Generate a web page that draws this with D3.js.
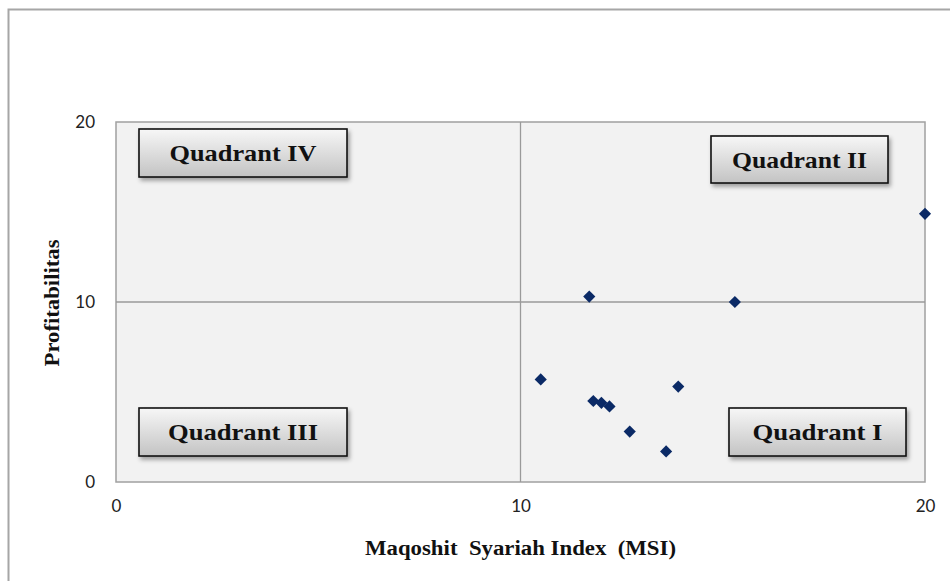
<!DOCTYPE html>
<html><head><meta charset="utf-8">
<script src="https://cdn.jsdelivr.net/npm/d3@7/dist/d3.min.js"></script>
<style>body{margin:0;background:#fff;}svg{display:block;}</style>
</head><body>
<svg id="c" width="950" height="581"></svg>
<script>
const msi = [20.0, 11.7, 15.3, 10.5, 13.9, 11.8, 12.0, 12.2, 12.7, 13.6];
const profit = [14.9, 10.3, 10.0, 5.7, 5.3, 4.5, 4.4, 4.2, 2.8, 1.7];
const xTicks = [0, 10, 20];
const yTicks = [0, 10, 20];
const quadrantLabels = ["Quadrant IV", "Quadrant II", "Quadrant III", "Quadrant I"];

const svg = d3.select("#c");
const L = 116, R = 925, T = 122, B = 482;
const x = d3.scaleLinear().domain([0, 20]).range([L, R]);
const y = d3.scaleLinear().domain([0, 20]).range([B, T]);

const defs = svg.append("defs");
const g = defs.append("linearGradient").attr("id","bg").attr("x1",0).attr("y1",0).attr("x2",0).attr("y2",1);
g.append("stop").attr("offset","0%").attr("stop-color","#f7f7f7");
g.append("stop").attr("offset","100%").attr("stop-color","#c3c3c3");
const f = defs.append("filter").attr("id","sh").attr("x","-10%").attr("y","-20%").attr("width","130%").attr("height","160%");
f.append("feDropShadow").attr("dx",2).attr("dy",3).attr("stdDeviation",2).attr("flood-color","#000").attr("flood-opacity",0.35);

// outer frame
svg.append("rect").attr("x",8.5).attr("y",9.5).attr("width",960).attr("height",600)
  .attr("fill","#fff").attr("stroke","#a6a6a6").attr("stroke-width",2);

// plot area
svg.append("rect").attr("x",L).attr("y",T).attr("width",R-L).attr("height",B-T)
  .attr("fill","#f2f2f2").attr("stroke","#a0a0a0").attr("stroke-width",1.5);

// midlines
svg.append("line").attr("x1",x(10)).attr("x2",x(10)).attr("y1",T).attr("y2",B).attr("stroke","#9a9a9a").attr("stroke-width",1.3);
svg.append("line").attr("x1",L).attr("x2",R).attr("y1",y(10)).attr("y2",y(10)).attr("stroke","#9a9a9a").attr("stroke-width",1.3);

// axes
const xa = svg.append("g").attr("transform",`translate(0,${B})`)
  .call(d3.axisBottom(x).tickValues(xTicks).tickSize(0).tickPadding(18).tickFormat(d3.format("d")));
const ya = svg.append("g").attr("transform",`translate(${L},0)`)
  .call(d3.axisLeft(y).tickValues(yTicks).tickSize(0).tickPadding(21).tickFormat(d3.format("d")));
[xa, ya].forEach(a => {
  a.select(".domain").remove();
  a.selectAll("text").attr("font-family","Lato, 'Open Sans', sans-serif").attr("font-size",17).attr("fill","#222");
});

// axis titles
svg.append("text").attr("x",x(10)).attr("y",555).attr("text-anchor","middle")
  .attr("font-family","'Liberation Serif', serif").attr("font-weight","bold").attr("font-size",20).attr("fill","#111")
  .attr("textLength",311).attr("lengthAdjust","spacingAndGlyphs")
  .attr("xml:space","preserve").text("Maqoshit  Syariah Index  (MSI)");
svg.append("text").attr("transform",`translate(59,${303}) rotate(-90)`).attr("text-anchor","middle")
  .attr("font-family","'Liberation Serif', serif").attr("font-weight","bold").attr("font-size",20).attr("fill","#111")
  .attr("textLength",127).attr("lengthAdjust","spacingAndGlyphs")
  .text("Profitabilitas");

// quadrant boxes
const boxes = [
  {x:139, y:129, w:208, h:48, tw:147},
  {x:711, y:136, w:177, h:47, tw:135},
  {x:139, y:408, w:208, h:48, tw:150},
  {x:729, y:408, w:177, h:48, tw:130}
];
boxes.forEach((b,i) => {
  const bg = svg.append("g");
  bg.append("rect").attr("x",b.x).attr("y",b.y).attr("width",b.w).attr("height",b.h)
    .attr("fill","url(#bg)").attr("stroke","#111").attr("stroke-width",1.6).attr("filter","url(#sh)");
  bg.append("text").attr("x",b.x+b.w/2).attr("y",b.y+b.h/2+8).attr("text-anchor","middle")
    .attr("font-family","'Liberation Serif', serif").attr("font-weight","bold").attr("font-size",24).attr("fill","#111")
    .attr("textLength",b.tw).attr("lengthAdjust","spacingAndGlyphs")
    .text(quadrantLabels[i]);
});

// points
const pts = msi.map((v,i)=>({x:v, y:profit[i]}));
svg.append("g").selectAll("path").data(pts).join("path")
  .attr("d", d3.symbol().type(d3.symbolSquare).size(74)())
  .attr("transform", d => `translate(${x(d.x)},${y(d.y)}) rotate(45)`)
  .attr("fill","#0b2a66");
</script>
</body></html>
